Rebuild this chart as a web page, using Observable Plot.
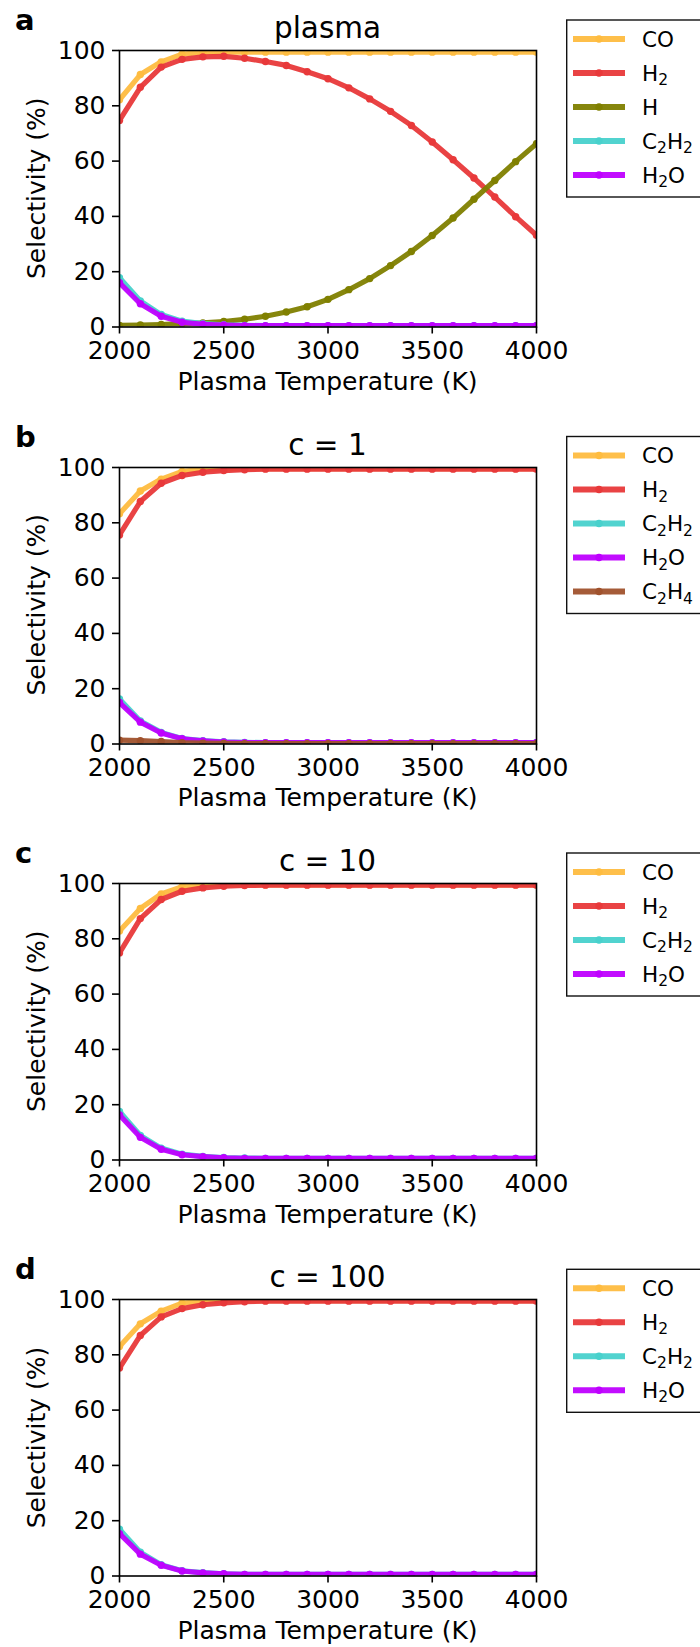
<!DOCTYPE html>
<html><head><meta charset="utf-8">
<script src="https://cdn.jsdelivr.net/npm/d3@7"></script>
<script src="https://cdn.jsdelivr.net/npm/@observablehq/plot@0.6"></script>
<style>
html,body{margin:0;padding:0;background:#fff;}
#wrap{position:relative;width:700px;height:1647px;overflow:hidden;font-family:"DejaVu Sans",sans-serif;background:#fff;}
#wrap svg{position:absolute;left:0;}
</style></head><body><div id="wrap"></div>
<script>
// ---------- data ----------
const temps = [2000,2100,2200,2300,2400,2500,2600,2700,2800,2900,3000,3100,3200,3300,3400,3500,3600,3700,3800,3900,4000];
const xTicks = [2000,2500,3000,3500,4000];
const yTicks = [0,20,40,60,80,100];
const seriesColors = {CO:"#FEBC40", H2:"#E8393A", H:"#808000", C2H2:"#48D1CC", H2O:"#BF00FF", C2H4:"#A0522D"};
const seriesLabels = {CO:"CO", H2:"H_2", H:"H", C2H2:"C_2H_2", H2O:"H_2O", C2H4:"C_2H_4"};
const panelLetters = ["a","b","c","d"];
const panelTitles = ["plasma","c = 1","c = 10","c = 100"];
const xLabel = "Plasma Temperature (K)";
const yLabel = "Selectivity (%)";

// panel a : plasma
const a_CO   = [82.2,91.3,95.9,98.7,99.3,99.4,99.4,99.4,99.4,99.4,99.4,99.4,99.4,99.4,99.4,99.4,99.4,99.4,99.4,99.4,99.4];
const a_H2   = [74.7,86.7,94.0,96.8,97.7,97.9,97.2,96.0,94.6,92.3,89.8,86.5,82.5,78.0,72.9,66.9,60.5,53.9,47.0,39.9,33.2];
const a_H    = [0.6,0.7,0.9,1.2,1.5,2.0,2.8,3.9,5.4,7.3,10.0,13.5,17.5,22.2,27.3,33.1,39.4,46.2,53.0,59.8,66.3];
const a_C2H2 = [17.8,9.4,4.5,2.1,1.2,0.8,0.6,0.5,0.5,0.5,0.5,0.5,0.5,0.5,0.5,0.5,0.5,0.5,0.5,0.5,0.5];
const a_H2O  = [16.0,8.4,3.9,1.7,1.0,0.7,0.5,0.5,0.5,0.5,0.5,0.5,0.5,0.5,0.5,0.5,0.5,0.5,0.5,0.5,0.5];
// panel b : c = 1
const b_CO   = [83.3,91.5,95.8,98.6,99.3,99.5,99.6,99.6,99.6,99.6,99.6,99.6,99.6,99.6,99.6,99.6,99.6,99.6,99.6,99.6,99.6];
const b_H2   = [75.6,87.7,94.3,97.1,98.3,98.9,99.2,99.4,99.4,99.4,99.4,99.4,99.4,99.4,99.4,99.4,99.4,99.4,99.4,99.4,99.4];
const b_C2H2 = [16.3,8.3,4.2,2.0,1.2,0.8,0.6,0.5,0.5,0.5,0.5,0.5,0.5,0.5,0.5,0.5,0.5,0.5,0.5,0.5,0.5];
const b_H2O  = [15.0,7.9,4.0,1.9,1.1,0.7,0.5,0.5,0.5,0.5,0.5,0.5,0.5,0.5,0.5,0.5,0.5,0.5,0.5,0.5,0.5];
const b_C2H4 = [1.4,1.2,0.9,0.5,0.3,0.2,0.1,0.1,0.1,0.1,0.1,0.1,0.1,0.1,0.1,0.1,0.1,0.1,0.1,0.1,0.1];
// panel c : c = 10
const c_CO   = [82.8,91.0,96.2,98.8,99.4,99.5,99.5,99.5,99.5,99.5,99.5,99.5,99.5,99.5,99.5,99.5,99.5,99.5,99.5,99.5,99.5];
const c_H2   = [74.9,87.3,94.2,97.2,98.4,99.0,99.3,99.4,99.4,99.4,99.4,99.4,99.4,99.4,99.4,99.4,99.4,99.4,99.4,99.4,99.4];
const c_C2H2 = [17.6,8.9,4.3,2.1,1.3,0.9,0.7,0.6,0.6,0.6,0.6,0.6,0.6,0.6,0.6,0.6,0.6,0.6,0.6,0.6,0.6];
const c_H2O  = [16.3,8.2,3.9,1.9,1.2,0.8,0.6,0.6,0.6,0.6,0.6,0.6,0.6,0.6,0.6,0.6,0.6,0.6,0.6,0.6,0.6];
// panel d : c = 100
const d_CO   = [83.0,91.2,95.8,98.7,99.3,99.5,99.6,99.6,99.6,99.6,99.6,99.6,99.6,99.6,99.6,99.6,99.6,99.6,99.6,99.6,99.6];
const d_H2   = [75.2,87.0,93.7,96.7,98.1,98.8,99.2,99.4,99.4,99.4,99.4,99.4,99.4,99.4,99.4,99.4,99.4,99.4,99.4,99.4,99.4];
const d_C2H2 = [16.9,8.6,4.1,1.9,1.2,0.8,0.6,0.6,0.6,0.6,0.6,0.6,0.6,0.6,0.6,0.6,0.6,0.6,0.6,0.6,0.6];
const d_H2O  = [15.3,7.9,3.9,1.8,1.1,0.8,0.6,0.6,0.6,0.6,0.6,0.6,0.6,0.6,0.6,0.6,0.6,0.6,0.6,0.6,0.6];

const panelSeries = [
  [["CO",a_CO],["H2",a_H2],["H",a_H],["C2H2",a_C2H2],["H2O",a_H2O]],
  [["CO",b_CO],["H2",b_H2],["C2H2",b_C2H2],["H2O",b_H2O],["C2H4",b_C2H4]],
  [["CO",c_CO],["H2",c_H2],["C2H2",c_C2H2],["H2O",c_H2O]],
  [["CO",d_CO],["H2",d_H2],["C2H2",d_C2H2],["H2O",d_H2O]]
];

// ---------- layout ----------
const plotTops = [50, 466.5, 883, 1299.3];
const PL = 119, PR = 536, PH = 276.5, SVG_W = 560, SVG_H = 416, MT = 50;
const FONT = "DejaVu Sans, sans-serif";
const TICK_FS = 25, LABEL_FS = 25, TITLE_FS = 29.5;
const wrap = document.getElementById("wrap");

panelSeries.forEach((series, i) => {
  const marks = [];
  series.forEach(([key, vals]) => {
    const rows = temps.map((t, j) => ({T: t, v: vals[j]}));
    marks.push(Plot.line(rows, {x: "T", y: "v", stroke: seriesColors[key], strokeWidth: 5.2, strokeOpacity: 0.95, strokeLinejoin: "round", clip: true}));
    marks.push(Plot.dot(rows, {x: "T", y: "v", fill: seriesColors[key], r: 3.7, clip: true}));
  });
  marks.push(Plot.frame({stroke: "#000", strokeWidth: 1.6}));
  marks.push(Plot.axisX({ticks: xTicks, tickFormat: d3.format("d"), tickSize: 7, tickPadding: 7, fontSize: TICK_FS, strokeWidth: 1.6, label: null}));
  marks.push(Plot.axisY({ticks: yTicks, tickFormat: d3.format("d"), tickSize: 7, tickPadding: 7, fontSize: TICK_FS, strokeWidth: 1.6, label: null}));
  const chart = Plot.plot({
    width: SVG_W, height: SVG_H,
    marginLeft: PL, marginRight: SVG_W - PR, marginTop: MT, marginBottom: SVG_H - MT - PH,
    x: {domain: [2000, 4000]}, y: {domain: [0, 100]},
    style: {fontFamily: FONT, background: "transparent", overflow: "visible", color: "#000"},
    marks
  });
  chart.style.position = "absolute";
  chart.style.top = (plotTops[i] - MT) + "px";
  chart.style.left = "0px";
  wrap.appendChild(chart);
});

// ---------- overlay: titles, labels, legends ----------
const ov = d3.create("svg").attr("width", 700).attr("height", 1647)
  .style("position", "absolute").style("top", "0px").style("left", "0px")
  .style("font-family", FONT).style("overflow", "hidden");

function richText(sel, label, subSize, subDy) {
  const parts = label.split(/(_\d)/).filter(s => s.length);
  let shifted = false;
  parts.forEach(p => {
    if (p.startsWith("_")) {
      sel.append("tspan").attr("dy", subDy).attr("font-size", subSize).text(p.slice(1));
      shifted = true;
    } else {
      const t = sel.append("tspan").text(p);
      if (shifted) { t.attr("dy", -subDy); shifted = false; }
    }
  });
}

const cx = (PL + PR) / 2;
panelSeries.forEach((series, i) => {
  const top = plotTops[i], bottom = top + PH;
  ov.append("text").attr("x", 15).attr("y", top - 20).attr("font-size", 29).attr("font-weight", "bold").text(panelLetters[i]);
  ov.append("text").attr("x", cx).attr("y", top - 12).attr("font-size", TITLE_FS).attr("text-anchor", "middle").text(panelTitles[i]);
  ov.append("text").attr("x", cx).attr("y", bottom + 63).attr("font-size", LABEL_FS).attr("text-anchor", "middle").text(xLabel);
  ov.append("text").attr("transform", `translate(45,${top + PH / 2}) rotate(-90)`).attr("font-size", LABEL_FS).attr("text-anchor", "middle").text(yLabel);

  // legend
  const lx = 566.7, ly = top - 30, n = series.length;
  const lh = 19 + 34 * (n - 1) + 22;
  const g = ov.append("g");
  g.append("rect").attr("x", lx).attr("y", ly).attr("width", 150).attr("height", lh)
    .attr("fill", "#fff").attr("stroke", "#111").attr("stroke-width", 1.4);
  series.forEach(([key], k) => {
    const yy = ly + 19 + 34 * k;
    g.append("line").attr("x1", 573).attr("x2", 625).attr("y1", yy).attr("y2", yy)
      .attr("stroke", seriesColors[key]).attr("stroke-width", 6).attr("stroke-opacity", 0.95);
    g.append("circle").attr("cx", 599).attr("cy", yy).attr("r", 3.7).attr("fill", seriesColors[key]);
    const t = g.append("text").attr("x", 642).attr("y", yy + 7.8).attr("font-size", 21.5);
    richText(t, seriesLabels[key], 15.5, 4.3);
  });
});
wrap.appendChild(ov.node());
</script>
</body></html>
